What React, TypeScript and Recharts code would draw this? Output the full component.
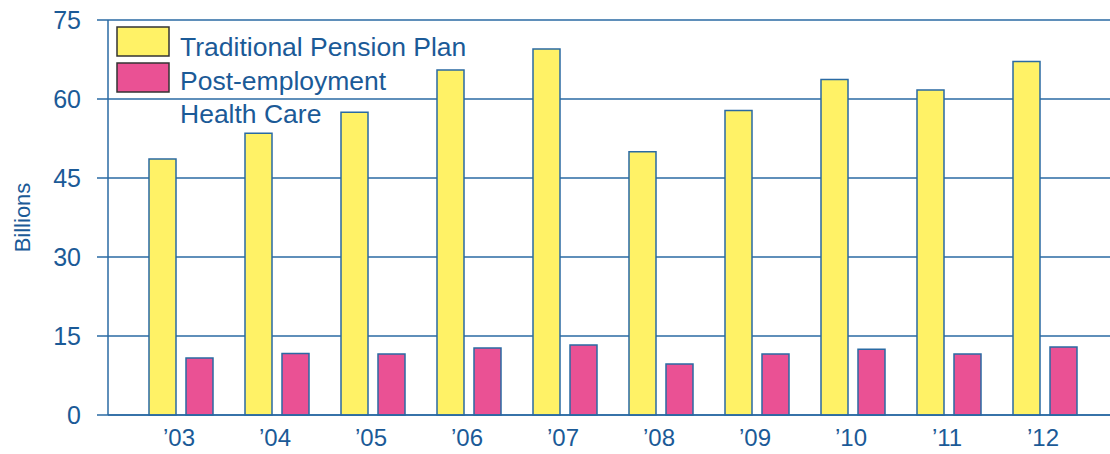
import { BarChart, Bar, XAxis, YAxis, CartesianGrid } from 'recharts'

const years = ["’03", "’04", "’05", "’06", "’07", "’08", "’09", "’10", "’11", "’12"]
const pension = [48.6, 53.5, 57.5, 65.5, 69.5, 50.0, 57.8, 63.7, 61.7, 67.1]
const healthCare = [10.8, 11.7, 11.6, 12.7, 13.3, 9.7, 11.6, 12.5, 11.6, 12.9]
const yTicks = [0, 15, 30, 45, 60, 75]

const BLUE = '#2a6aa3'
const TEXT = '#1b5a97'
const YELLOW = '#fff266'
const PINK = '#ea5194'
const FONT = 'Arial, "Liberation Sans", sans-serif'

const data = years.map((year, i) => ({ year, pension: pension[i], health: healthCare[i] }))

// legend drawn as an overlay so it doesn't steal space from the plot
function LegendOverlay() {
  return (
    <svg
      width={480}
      height={140}
      style={{ position: 'absolute', left: 0, top: 0, pointerEvents: 'none' }}
    >
      <rect x={117} y={27} width={52} height={29} fill={YELLOW} stroke="#333" strokeWidth={1.5} />
      <rect x={117} y={63} width={52} height={29} fill={PINK} stroke="#333" strokeWidth={1.5} />
      <g fontFamily={FONT} fontSize={26.5} fill={TEXT}>
        <text x={180} y={56}>Traditional Pension Plan</text>
        <text x={180} y={90}>Post-employment</text>
        <text x={180} y={123}>Health Care</text>
      </g>
    </svg>
  )
}

export default function App() {
  return (
    <div style={{ position: 'absolute', left: 0, top: 0, width: 1110, height: 454, background: '#fff' }}>
      <BarChart
        width={1110}
        height={454}
        data={data}
        margin={{ top: 20, right: 0, bottom: 0, left: 0 }}
        barSize={27}
        barGap={10}
      >
        <CartesianGrid vertical={false} stroke={BLUE} strokeWidth={1.5} />
        <XAxis
          dataKey="year"
          height={39}
          padding={{ left: 25, right: 17 }}
          axisLine={{ stroke: BLUE, strokeWidth: 1.5 }}
          tickLine={false}
          tick={{ fontSize: 24, fill: TEXT, fontFamily: FONT, dx: -2 }}
          tickMargin={8}
          interval={0}
        />
        <YAxis
          width={108}
          domain={[0, 75]}
          ticks={yTicks}
          interval={0}
          axisLine={{ stroke: BLUE, strokeWidth: 1.5 }}
          tickLine={{ stroke: BLUE, strokeWidth: 1.5 }}
          tickSize={11}
          tickMargin={16}
          tick={{ fontSize: 25, fill: TEXT, fontFamily: FONT }}
          label={{
            value: 'Billions',
            angle: -90,
            position: 'insideLeft',
            offset: 22,
            style: { fontSize: 22, fill: TEXT, fontFamily: FONT, textAnchor: 'middle' },
          }}
        />
        <Bar
          dataKey="pension"
          name="Traditional Pension Plan"
          fill={YELLOW}
          stroke={BLUE}
          strokeWidth={1.5}
          isAnimationActive={false}
        />
        <Bar
          dataKey="health"
          name="Post-employment Health Care"
          fill={PINK}
          stroke={BLUE}
          strokeWidth={1.5}
          isAnimationActive={false}
        />
      </BarChart>
      <LegendOverlay />
    </div>
  )
}
